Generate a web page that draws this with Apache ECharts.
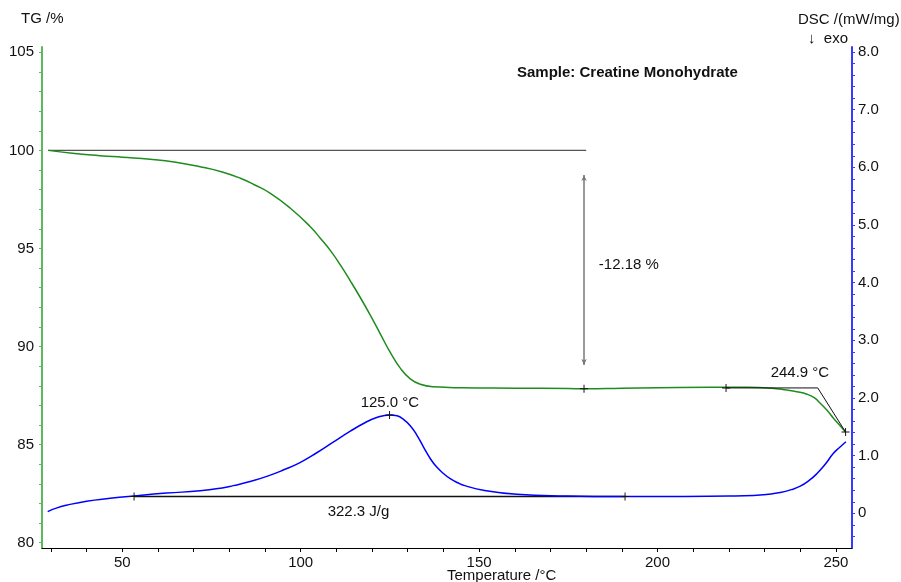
<!DOCTYPE html>
<html>
<head>
<meta charset="utf-8">
<script src="https://cdn.jsdelivr.net/npm/echarts@6/dist/echarts.min.js"></script>
<style>
  html, body { margin: 0; padding: 0; background: #fff; }
  #chart { width: 901px; height: 582px; }
</style>
</head>
<body>
<div id="chart"></div>
<script>
// TG curve (temperature °C, mass %)
const tgTemp = [29.2, 36, 43.7, 50, 57.8, 65, 71.8, 78, 83.1, 87, 91.5, 97.1, 102.7, 105.5, 108.5, 111.1, 113.9, 116.7, 119.5, 122.3, 125.1, 127.9, 130.7, 133.5, 137.3, 145, 160, 175, 180, 190, 200, 215, 225, 232, 236.3, 239, 241.9, 244, 245.6, 247.5, 249.3, 251, 252.7];
const tgVal = [100.0, 99.85, 99.73, 99.65, 99.55, 99.40, 99.17, 98.9, 98.58, 98.25, 97.81, 97.05, 96.11, 95.52, 94.85, 94.16, 93.35, 92.50, 91.60, 90.65, 89.70, 88.90, 88.35, 88.08, 87.95, 87.90, 87.88, 87.86, 87.85, 87.88, 87.90, 87.92, 87.92, 87.88, 87.78, 87.70, 87.57, 87.38, 87.11, 86.75, 86.35, 86.0, 85.64];

// DSC curve (temperature °C, mW/mg)
const dscTemp = [29.1, 31.5, 34.4, 40.0, 46.6, 53.1, 62.4, 71.8, 78, 81.1, 85.8, 90.5, 95.1, 99.8, 104.5, 109, 113.8, 118, 121.3, 124.9, 127, 128.8, 130.7, 132.5, 134.5, 136.3, 138, 140, 141.9, 144, 146, 151.2, 160.6, 174.6, 190, 200, 220, 226.9, 231, 234.4, 237.5, 240.0, 242.5, 244.7, 247, 249.3, 251, 252.8];
const dscVal = [0.03, 0.09, 0.14, 0.21, 0.26, 0.30, 0.35, 0.39, 0.44, 0.48, 0.55, 0.64, 0.75, 0.88, 1.05, 1.23, 1.42, 1.57, 1.66, 1.705, 1.69, 1.63, 1.52, 1.36, 1.14, 0.95, 0.81, 0.69, 0.60, 0.53, 0.48, 0.40, 0.33, 0.30, 0.29, 0.29, 0.30, 0.31, 0.33, 0.36, 0.41, 0.47, 0.57, 0.69, 0.85, 1.04, 1.14, 1.24];

// axis ticks
const xLabels = [50, 100, 150, 200, 250];
const xTicks = [30, 40, 50, 60, 70, 80, 90, 100, 110, 120, 130, 140, 150, 160, 170, 180, 190, 200, 210, 220, 230, 240, 250];
const tgLabels = [80, 85, 90, 95, 100, 105];
const tgTicks = [];
for (let v = 80; v <= 105; v++) tgTicks.push(v);
const dscLabels = [0, 1, 2, 3, 4, 5, 6, 7, 8];
const dscTicks = [];
for (let i = -2; i <= 40; i++) dscTicks.push(Math.round(i * 0.2 * 10) / 10);

// evaluation annotations
const massStepLine = [[29.2, 100.0], [180, 100.0]];
const massStepArrow = [179.4, 98.74, 89.06];
const massStepText = "-12.18 %";
const onsetLine = [[219.2, 87.89], [244.9, 87.89], [252.7, 85.64]];
const onsetText = "244.9 °C";
const tgMarks = [[179.4, 87.85], [219.2, 87.89], [252.7, 85.64]];
const peakText = "125.0 °C";
const areaText = "322.3 J/g";
const areaLine = [[53.3, 0.29], [190.9, 0.29]];
const dscMarks = [[124.9, 1.705], [53.3, 0.29], [190.9, 0.29]];

const FONT = "'Liberation Sans', Arial, sans-serif";
const plus = "path://M4.4,0H5.6V10H4.4ZM0,4.4H10V5.6H0Z";

const zip = (a, b) => a.map((v, i) => [v, b[i]]);

const chart = echarts.init(document.getElementById("chart"));
const option = {
  animation: false,
  backgroundColor: "#fff",
  textStyle: { fontFamily: FONT },
  grid: { left: 42, right: 49, top: 47, bottom: 34 },
  xAxis: {
    type: "value",
    min: 27.5,
    max: 254.5,
    splitLine: { show: false },
    axisLine: { show: true, onZero: false, lineStyle: { color: "#000", width: 1 } },
    axisTick: { show: true, length: 4, customValues: xTicks, lineStyle: { color: "#000" } },
    axisLabel: { customValues: xLabels, margin: 7, fontSize: 15, color: "#111", fontFamily: FONT },
  },
  yAxis: [
    {
      type: "value",
      position: "left",
      min: 79.73,
      max: 105.27,
      splitLine: { show: false },
      axisLine: { show: true, onZero: false, lineStyle: { color: "#5cb85c", width: 2 } },
      axisTick: { show: true, length: 3, customValues: tgTicks, lineStyle: { color: "#5cb85c" } },
      axisLabel: { customValues: tgLabels, margin: 8, fontSize: 15, color: "#111", fontFamily: FONT },
    },
    {
      type: "value",
      position: "right",
      min: -0.602,
      max: 8.087,
      splitLine: { show: false },
      axisLine: { show: true, onZero: false, lineStyle: { color: "#3a3aff", width: 2 } },
      axisTick: { show: true, length: 3, customValues: dscTicks, lineStyle: { color: "#3a3aff" } },
      axisLabel: {
        customValues: dscLabels,
        margin: 6,
        fontSize: 15,
        color: "#111",
        fontFamily: FONT,
        formatter: (v) => (v === 0 ? "0" : v.toFixed(1)),
      },
    },
  ],
  graphic: [
    { type: "text", left: 21, top: 11, style: { text: "TG /%", fontSize: 15, fill: "#111", fontFamily: FONT } },
    { type: "text", left: 798, top: 12, style: { text: "DSC /(mW/mg)", fontSize: 15, fill: "#111", fontFamily: FONT } },
    { type: "text", left: 808, top: 31, style: { text: "↓  exo", fontSize: 15, fill: "#111", fontFamily: FONT } },
    { type: "text", left: 447, top: 568, style: { text: "Temperature /°C", fontSize: 15, fill: "#111", fontFamily: FONT } },
    { type: "text", left: 517, top: 65, style: { text: "Sample: Creatine Monohydrate", fontSize: 15, fontWeight: "bold", fill: "#111", fontFamily: FONT } },
  ],
  series: [
    {
      name: "TG",
      type: "line",
      yAxisIndex: 0,
      data: zip(tgTemp, tgVal),
      smooth: 0.5,
      showSymbol: false,
      lineStyle: { color: "#1e8c1e", width: 1.5 },
      z: 3,
      markLine: {
        silent: true,
        symbol: ["arrow", "arrow"],
        symbolSize: [4, 6],
        label: { show: false },
        lineStyle: { color: "#777", width: 1.5, type: "solid" },
        data: [[{ coord: [massStepArrow[0], massStepArrow[1]] }, { coord: [massStepArrow[0], massStepArrow[2]] }]],
      },
    },
    {
      name: "DSC",
      type: "line",
      yAxisIndex: 1,
      data: zip(dscTemp, dscVal),
      smooth: 0.5,
      showSymbol: false,
      lineStyle: { color: "#0000ff", width: 1.5 },
      z: 3,
    },
    {
      name: "step line",
      type: "line",
      yAxisIndex: 0,
      data: massStepLine,
      showSymbol: false,
      lineStyle: { color: "#555", width: 1.2 },
      z: 2,
    },
    {
      name: "onset",
      type: "line",
      yAxisIndex: 0,
      data: onsetLine,
      showSymbol: false,
      lineStyle: { color: "#111", width: 1 },
      z: 4,
    },
    {
      name: "area baseline",
      type: "line",
      yAxisIndex: 1,
      data: areaLine,
      showSymbol: false,
      lineStyle: { color: "#111", width: 1.6 },
      z: 2,
    },
    {
      name: "tg marks",
      type: "scatter",
      yAxisIndex: 0,
      data: tgMarks,
      symbol: plus,
      symbolSize: 8,
      itemStyle: { color: "#111", opacity: 1 },
      z: 5,
    },
    {
      name: "dsc marks",
      type: "scatter",
      yAxisIndex: 1,
      data: dscMarks,
      symbol: plus,
      symbolSize: 8,
      itemStyle: { color: "#111", opacity: 1 },
      z: 5,
    },
    {
      name: "tg texts",
      type: "scatter",
      yAxisIndex: 0,
      symbolSize: 0,
      itemStyle: { opacity: 1 },
      data: [
        { value: [182.7, 94.16], name: massStepText, label: { position: "right", offset: [-2, 0] } },
        { value: [239.9, 88.64], name: onsetText, label: { position: "inside" } },
      ],
      label: { show: true, formatter: (p) => p.name, fontSize: 15, color: "#111", fontFamily: FONT },
      z: 6,
    },
    {
      name: "dsc texts",
      type: "scatter",
      yAxisIndex: 1,
      symbolSize: 0,
      itemStyle: { opacity: 1 },
      data: [
        { value: [125.0, 1.92], name: peakText },
        { value: [116.2, 0.03], name: areaText },
      ],
      label: { show: true, position: "inside", formatter: (p) => p.name, fontSize: 15, color: "#111", fontFamily: FONT },
      z: 6,
    },
  ],
};
chart.setOption(option);
</script>
</body>
</html>
